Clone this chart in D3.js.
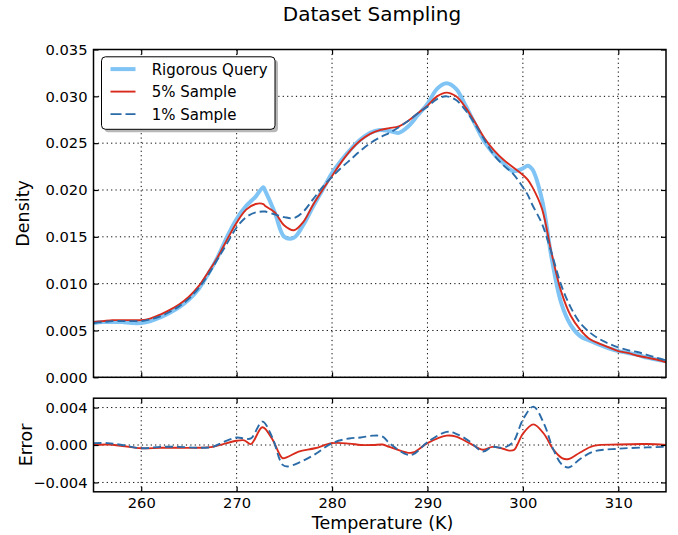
<!DOCTYPE html>
<html>
<head>
<meta charset="utf-8">
<script src="https://cdn.jsdelivr.net/npm/d3@7"></script>
<style>
  body { margin: 0; background: #fff; }
  text { font-family: "DejaVu Sans", sans-serif; fill: #000; }
</style>
</head>
<body>
<svg id="chart" width="678" height="535"></svg>
<script>
var temps = [255,256,257,258,259,260,261,262,263,264,265,266,267,268,269,270,271,272,272.8,
  273,274,275,276,277,278,279,280,281,282,283,284,285,286,287,288,289,290,291,292,293,294,
  295,296,297,298,299,300,300.5,301,302,303,304,305,306,307,308,309,310,311,312,313,314,315];

var rigorous = [.0058,.0059,.0059,.0059,.0058,.0058,.0060,.0064,.0069,.0075,.0083,.0094,.0110,.0128,.0150,.0169,.0183,.0193,.0203,
  .0199,.0176,.0150,.0149,.0163,.0182,.0200,.0218,.0232,.0244,.0254,.0261,.0264,.0263,.0261,.0268,.0280,.0292,.0308,.0314,.0308,.0290,
  .0270,.0251,.0238,.0228,.0220,.0223,.0226,.0222,.0190,.0128,.0080,.0056,.0044,.0039,.0035,.0031,.0028,.0026,.0024,.0021,.0019,.0017];

var sample5 = [.0059,.0060,.0061,.0061,.0061,.0061,.0063,.0067,.0072,.0078,.0086,.0097,.0112,.0128,.0147,.0165,.0179,.0185,.0185,
  .0183,.0176,.0162,.0157,.0166,.0184,.0200,.0215,.0230,.0243,.0253,.0260,.0264,.0266,.0268,.0274,.0282,.0290,.0300,.0304,.0300,.0288,
  .0272,.0255,.0242,.0232,.0224,.0216,.0211,.0203,.0180,.0133,.0092,.0066,.0051,.0041,.0036,.0032,.0028,.0026,.0023,.0021,.0019,.0016];

var sample1 = [.0058,.0059,.0060,.0060,.0060,.0060,.0062,.0065,.0070,.0076,.0084,.0095,.0109,.0126,.0143,.0160,.0171,.0176,.0177,
  .0177,.0174,.0171,.0170,.0177,.0190,.0203,.0214,.0224,.0233,.0242,.0250,.0256,.0261,.0267,.0274,.0282,.0289,.0297,.0300,.0296,.0285,
  .0270,.0253,.0237,.0226,.0217,.0203,.0195,.0184,.0164,.0133,.0099,.0075,.0058,.0048,.0041,.0036,.0032,.0029,.0027,.0024,.0021,.0018];

// error panel, read separately
var errTemps = [255,256.5,258,260,262,264,266,267.5,268.6,270,270.8,271.5,272.7,273.7,274.8,275.3,276.5,278.2,
  280,281.8,283,284.3,285.3,286,287.8,288.5,290,292,293,294.4,295.8,296.8,297.9,298.6,299.1,
  300,301.1,302.2,303.2,304.1,304.8,306,307.4,310,313,315];

var err5 = [0,.00005,-.0001,-.00035,-.0003,-.0003,-.0003,-.0002,.0001,.00045,.0005,.0001,.0019,.0007,-.0014,-.0013,-.0007,-.00035,
  .0002,.00015,0,0,.00005,-.0002,-.0008,-.0008,.0002,.001,.0009,.0002,-.0005,-.0002,-.0004,-.0006,-.0005,
  .0012,.0022,.0012,-.0005,-.0014,-.0015,-.0008,-.0001,.00005,.0001,0];

var err1 = [.0002,.0002,0,-.00035,-.0002,-.0002,-.0003,-.0002,.0003,.0008,.0007,.0007,.0025,.0009,-.0021,-.0023,-.0019,-.001,
  .0002,.0007,.0008,.001,.0009,.0002,-.001,-.001,.0003,.0014,.0012,.0004,-.0007,-.0002,-.0003,0,.0005,
  .0027,.0041,.0023,-.0005,-.0021,-.0024,-.0015,-.0007,-.0004,-.00025,-.0002];

var tempTicks = [260, 270, 280, 290, 300, 310];
var densityTicks = [0, 0.005, 0.010, 0.015, 0.020, 0.025, 0.030, 0.035];
var errorTicks = [-0.004, 0, 0.004];
var seriesNames = ["Rigorous Query", "5% Sample", "1% Sample"];

var colRig = "#7fc4f4", colRed = "#d92b1c", colBlue = "#2b6ca8";

var svg = d3.select("#chart"),
    left = 93.5, right = 666,
    top1 = 49.5, bottom1 = 377.3,
    top2 = 398.2, bottom2 = 491.8;

var x = d3.scaleLinear().domain([255, 315]).range([left, right]);
var y = d3.scaleLinear().domain([0, 0.035]).range([bottom1, top1]);
var yErr = d3.scaleLinear().domain([-0.005, 0.005]).range([bottom2, top2]);

svg.append("defs").selectAll("clipPath")
    .data([[top1, bottom1, "c1"], [top2, bottom2, "c2"]])
  .enter().append("clipPath").attr("id", function(d) { return d[2]; })
  .append("rect")
    .attr("x", left).attr("y", function(d) { return d[0]; })
    .attr("width", right - left).attr("height", function(d) { return d[1] - d[0]; });

function grid(yScale, yTicks, t, b) {
  var g = svg.append("g").attr("stroke", "#000").attr("stroke-width", 1).attr("stroke-dasharray", "1.2,3.2");
  g.selectAll(".v").data(tempTicks).enter().append("line")
    .attr("x1", function(d) { return x(d); }).attr("x2", function(d) { return x(d); })
    .attr("y1", t).attr("y2", b);
  g.selectAll(".h").data(yTicks).enter().append("line")
    .attr("x1", left).attr("x2", right)
    .attr("y1", function(d) { return yScale(d); }).attr("y2", function(d) { return yScale(d); });
}
grid(y, densityTicks, top1, bottom1);
grid(yErr, errorTicks, top2, bottom2);

// curves
function drawLine(xs, ys, yScale, clip, color, width, dash) {
  var line = d3.line()
    .x(function(d) { return x(d[0]); })
    .y(function(d) { return yScale(d[1]); })
    .curve(d3.curveCatmullRom.alpha(0.5));
  svg.append("path")
    .datum(xs.map(function(t, i) { return [t, ys[i]]; }))
    .attr("clip-path", "url(#" + clip + ")")
    .attr("fill", "none")
    .attr("stroke", color)
    .attr("stroke-width", width)
    .attr("stroke-dasharray", dash || null)
    .attr("stroke-linejoin", "round")
    .attr("d", line);
}
drawLine(temps, rigorous, y, "c1", colRig, 4);
drawLine(temps, sample5, y, "c1", colRed, 1.9);
drawLine(temps, sample1, y, "c1", colBlue, 1.9, "8,4");

drawLine(errTemps, err5, yErr, "c2", colRed, 1.9);
drawLine(errTemps, err1, yErr, "c2", colBlue, 1.9, "8,4");

// axes, ticks pointing inward
function axes(yScale, yTicks, t, b, showX) {
  var fmt = d3.format(".3f");
  var gl = svg.append("g").attr("transform", "translate(" + left + ",0)")
    .call(d3.axisLeft(yScale).tickValues(yTicks).tickFormat(fmt).tickSizeInner(-5).tickSizeOuter(0).tickPadding(6));
  var gr = svg.append("g").attr("transform", "translate(" + right + ",0)")
    .call(d3.axisRight(yScale).tickValues(yTicks).tickFormat("").tickSizeInner(-5).tickSizeOuter(0));
  var gt = svg.append("g").attr("transform", "translate(0," + t + ")")
    .call(d3.axisTop(x).tickValues(tempTicks).tickFormat("").tickSizeInner(-5).tickSizeOuter(0));
  var gb = svg.append("g").attr("transform", "translate(0," + b + ")")
    .call(d3.axisBottom(x).tickValues(tempTicks).tickFormat(showX ? d3.format("d") : "")
      .tickSizeInner(-5).tickSizeOuter(0).tickPadding(6));
  [gl, gr, gt, gb].forEach(function(g) {
    g.select(".domain").remove();
    g.selectAll("line").attr("stroke", "#000").attr("stroke-width", 1.2);
    g.selectAll("text").style("font-size", "14.7px").attr("fill", "#000")
      .style("font-family", "'DejaVu Sans', sans-serif");
  });
  svg.append("rect")
    .attr("x", left).attr("y", t).attr("width", right - left).attr("height", b - t)
    .attr("fill", "none").attr("stroke", "#000").attr("stroke-width", 1.5);
}
axes(y, densityTicks, top1, bottom1, false);
axes(yErr, errorTicks, top2, bottom2, true);

// labels
svg.append("text").attr("x", 372).attr("y", 21).attr("text-anchor", "middle")
  .style("font-size", "20px").text("Dataset Sampling");
svg.append("text").attr("x", 382.5).attr("y", 529).attr("text-anchor", "middle")
  .style("font-size", "17.5px").text("Temperature (K)");
svg.append("text").attr("transform", "translate(29," + ((top1 + bottom1) / 2) + ") rotate(-90)")
  .attr("text-anchor", "middle").style("font-size", "17.5px").text("Density");
svg.append("text").attr("transform", "translate(32," + ((top2 + bottom2) / 2) + ") rotate(-90)")
  .attr("text-anchor", "middle").style("font-size", "17.5px").text("Error");

// legend
var lg = svg.append("g").attr("transform", "translate(101.5,56.8)");
lg.append("rect").attr("x", 3).attr("y", 3).attr("width", 173.5).attr("height", 72.5)
  .attr("rx", 4).attr("fill", "#9a9a9a").attr("opacity", 0.7);
lg.append("rect").attr("width", 173.5).attr("height", 72.5).attr("rx", 4)
  .attr("fill", "#fff").attr("stroke", "#000").attr("stroke-width", 1);
var legendStyles = [[colRig, 4, null], [colRed, 1.9, null], [colBlue, 1.9, "11,4"]];
var items = lg.selectAll(".item").data(seriesNames).enter().append("g")
  .attr("transform", function(d, i) { return "translate(0," + (12.3 + i * 22.5) + ")"; });
items.append("line").attr("x1", 9).attr("x2", 34).attr("y1", 0).attr("y2", 0)
  .attr("stroke", function(d, i) { return legendStyles[i][0]; })
  .attr("stroke-width", function(d, i) { return legendStyles[i][1]; })
  .attr("stroke-dasharray", function(d, i) { return legendStyles[i][2]; });
items.append("text").attr("x", 50.2).attr("dy", "0.36em").style("font-size", "15px")
  .text(function(d) { return d; });
</script>
</body>
</html>
